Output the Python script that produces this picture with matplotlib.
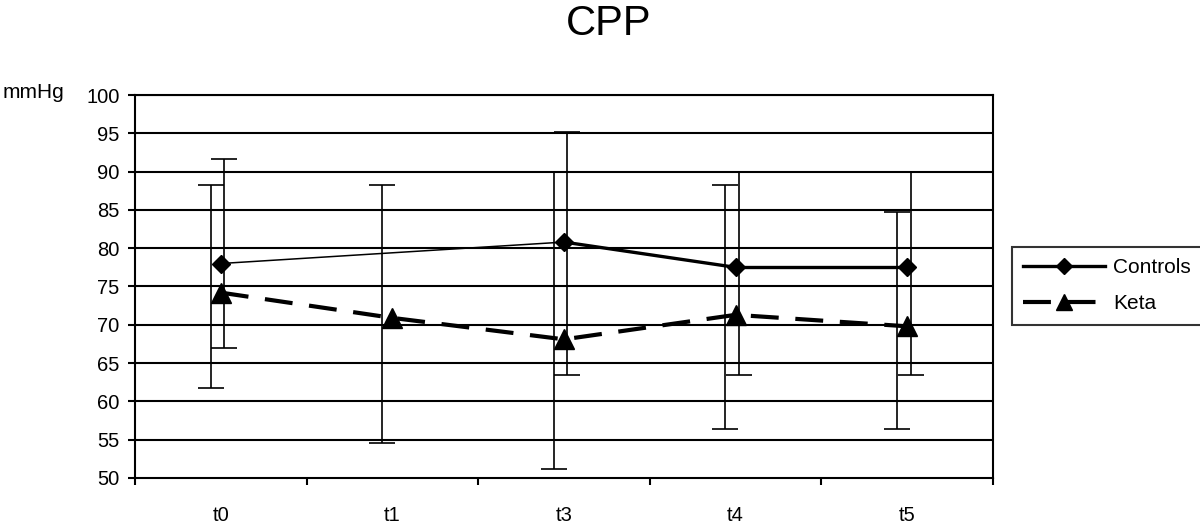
import numpy as np
import matplotlib
matplotlib.use("Agg")
import matplotlib.pyplot as plt
from matplotlib.lines import Line2D

plt.rcParams['font.family'] = ['Liberation Sans', 'DejaVu Sans']

# data
timepoints = ["t0", "t1", "t3", "t4", "t5"]
controls = [78.0, np.nan, 80.8, 77.5, 77.5]
controls_lo = [67.0, np.nan, 63.5, 63.5, 63.5]
controls_hi = [91.7, np.nan, 95.2, 90.0, 90.0]
keta = [74.2, 70.9, 68.1, 71.3, 69.8]
keta_lo = [61.8, 54.6, 51.2, 56.4, 56.4]
keta_hi = [88.3, 88.3, 90.0, 88.3, 84.7]

x = np.arange(len(timepoints))
controls = np.array(controls)
keta = np.array(keta)

fig = plt.figure(figsize=(12, 5.24), dpi=100)
ax = fig.add_axes([0.1125, 0.0878, 0.715, 0.7309])

# horizontal grid
for yv in range(55, 101, 5):
    ax.axhline(yv, color='black', lw=1.5, zorder=1)

# error bars (Keta slightly left, Controls slightly right)
ok = ~np.isnan(controls)
ax.errorbar(x[ok] + 0.02, controls[ok],
            yerr=[controls[ok] - np.array(controls_lo)[ok], np.array(controls_hi)[ok] - controls[ok]],
            fmt='none', ecolor='black', elinewidth=1.2, capsize=9.5, capthick=1.2, zorder=2)
ax.errorbar(x - 0.06, keta,
            yerr=[keta - np.array(keta_lo), np.array(keta_hi) - keta],
            fmt='none', ecolor='black', elinewidth=1.2, capsize=9.5, capthick=1.2, zorder=2)

# Controls line: thin across the missing point, thick otherwise
idx = x[ok]
for a, b in zip(idx[:-1], idx[1:]):
    lw = 1.1 if b - a > 1 else 2.4
    ax.plot([a, b], [controls[a], controls[b]], color='black', lw=lw, zorder=3)
ax.plot(x[ok], controls[ok], ls='none', marker='D', ms=9, color='black', zorder=4)

ax.plot(x, keta, color='black', lw=3, dashes=(6.7, 4), marker='^', ms=15, zorder=4)

ax.set_xlim(-0.5, len(timepoints) - 0.5)
ax.set_ylim(50, 100)
ax.set_yticks(range(50, 101, 5))
ax.set_xticks(np.arange(-0.5, len(timepoints), 1.0))
ax.set_xticklabels([])
ax.set_xticks(x, minor=True)
ax.set_xticklabels(timepoints, minor=True)
ax.tick_params(axis='x', which='major', direction='out', length=5, width=1.5)
ax.tick_params(axis='x', which='minor', length=0, pad=20, labelsize=14.5)
ax.tick_params(axis='y', direction='out', length=5, width=1.5, pad=6, labelsize=14.5)
for s in ax.spines.values():
    s.set_linewidth(1.5)
    s.set_color('black')

fig.text(0.507, 1 - 24 / 524, "CPP", ha='center', va='center', fontsize=30)
fig.text(3 / 1200, 1 - 92 / 524, "mmHg", ha='left', va='center', fontsize=15)

handles = [
    Line2D([], [], color='black', lw=2.4, marker='D', ms=8),
    Line2D([], [], color='black', lw=3, dashes=(6.7, 4), marker='^', ms=11),
]
leg = ax.legend(handles, ["Controls", "Keta"], loc='upper left',
                bbox_to_anchor=(1012 / 1200, 1 - 247 / 524), bbox_transform=fig.transFigure,
                fontsize=15, frameon=True, fancybox=False, handlelength=3.9,
                borderpad=0.55, labelspacing=0.8, handletextpad=0.4, borderaxespad=0)
leg.get_frame().set_edgecolor('black')
leg.get_frame().set_linewidth(1.5)

fig.savefig("out.png", dpi=100)
